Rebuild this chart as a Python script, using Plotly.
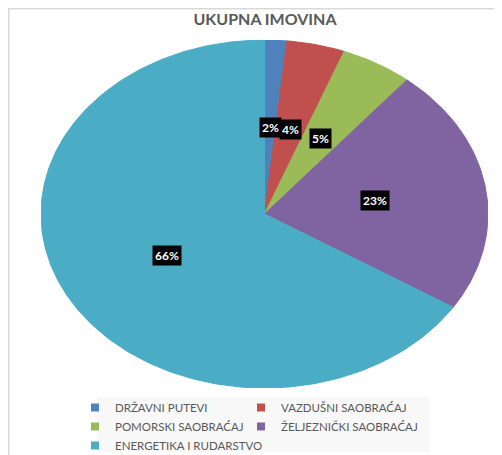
import numpy as np
import plotly.graph_objects as go

# chart data
categories = [
    "DRŽAVNI PUTEVI",
    "VAZDUŠNI SAOBRAĆAJ",
    "POMORSKI SAOBRAĆAJ",
    "ŽELJEZNIČKI SAOBRAĆAJ",
    "ENERGETIKA I RUDARSTVO",
]
shares = [1.6, 4.2, 5.2, 23.0, 66.0]
colors = ["#4F81BD", "#C0504D", "#9BBB59", "#8064A2", "#4BACC6"]
title = "UKUPNA IMOVINA"

# the page body has an 8px margin, so the figure is a bit smaller than the window
OFF = 8
W, H = 502 - OFF, 455 - OFF
FONT = "Lato, 'Open Sans', sans-serif"
GREY = "#595959"


def px(x):
    return (x - OFF) / W


def py(y):
    return 1 - (y - OFF) / H


fig = go.Figure()

total = sum(shares)
start = 0.0
label_pos = []
for name, value, color in zip(categories, shares, colors):
    a0 = 2 * np.pi * start / total
    a1 = 2 * np.pi * (start + value) / total
    t = np.linspace(a0, a1, max(int(value * 4), 8))
    xs = np.concatenate([[0], np.sin(t), [0]])
    ys = np.concatenate([[0], np.cos(t), [0]])
    fig.add_trace(go.Scatter(
        x=xs, y=ys, mode="lines", fill="toself",
        fillcolor=color, line=dict(color=color, width=1),
        name=name, showlegend=False, hoverinfo="name",
    ))
    mid = (a0 + a1) / 2
    label_pos.append((0.5 * np.sin(mid), 0.5 * np.cos(mid), value / total * 100))
    start += value

# legend entries (square swatches), laid out in two columns like Excel does
for i, (name, color) in enumerate(zip(categories, colors)):
    fig.add_trace(go.Scatter(
        x=[None], y=[None], mode="markers", name=name,
        legend="legend" if i % 2 == 0 else "legend2",
        marker=dict(symbol="square", size=8, color=color),
    ))

for x, y, pct in label_pos:
    fig.add_annotation(
        x=x, y=y, xref="x", yref="y", text=f"<b>{pct:.0f}%</b>",
        showarrow=False, bgcolor="black", borderpad=2,
        font=dict(family=FONT, size=12, color="white"),
    )

# chart frame lines (top and left) and legend background
fig.add_shape(type="line", xref="paper", yref="paper",
              x0=0, x1=1, y0=1 - 0.75 / H, y1=1 - 0.75 / H,
              line=dict(color="#d9d9d9", width=1.5))
fig.add_shape(type="line", xref="paper", yref="paper",
              x0=0.75 / W, x1=0.75 / W, y0=0, y1=1,
              line=dict(color="#d9d9d9", width=1.5))
fig.add_shape(type="rect", xref="paper", yref="paper", layer="below",
              x0=px(97), x1=px(430), y0=py(452), y1=py(397),
              fillcolor="#f8f8f8", line=dict(width=0))

legend_style = dict(
    orientation="v", xanchor="left", yanchor="top", y=py(393),
    bgcolor="rgba(0,0,0,0)", itemclick=False, tracegroupgap=0,
    font=dict(family=FONT, size=11.5, color=GREY),
)

fig.update_layout(
    width=W, height=H,
    margin=dict(l=0, r=0, t=0, b=0, autoexpand=False),
    paper_bgcolor="white", plot_bgcolor="white",
    title=dict(text=f"<b>{title}</b>", x=px(265), xanchor="center",
               y=py(19), yanchor="middle",
               font=dict(family=FONT, size=16, color=GREY)),
    xaxis=dict(domain=[px(41), px(488)], range=[-1, 1], visible=False,
               fixedrange=True),
    yaxis=dict(domain=[py(388), py(40)], range=[-1, 1], visible=False,
               fixedrange=True),
    legend=dict(x=px(75), **legend_style),
    legend2=dict(x=px(241), **legend_style),
    showlegend=True,
)

fig.write_html("out.html")
